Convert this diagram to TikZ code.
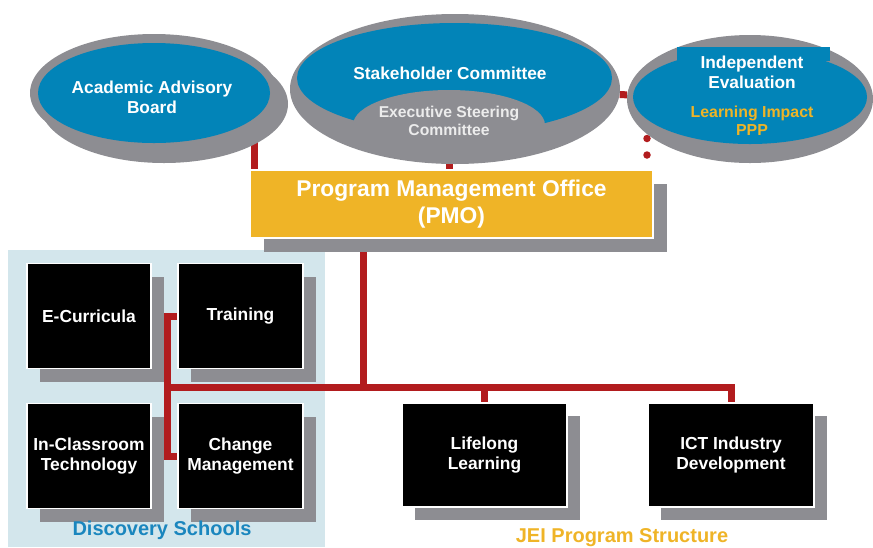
\documentclass[tikz,border=0pt]{standalone}
\usepackage{fontspec}
\setmainfont{Liberation Sans}
\usetikzlibrary{positioning,shapes.geometric,shadows,backgrounds}

\definecolor{jeiblue}{RGB}{2,132,184}
\definecolor{jeigold}{RGB}{239,180,39}
\definecolor{jeired}{RGB}{178,28,30}
\definecolor{rimgray}{RGB}{141,141,146}
\definecolor{panelblue}{RGB}{211,230,236}
\definecolor{labelblue}{RGB}{26,134,190}
\definecolor{softwhite}{RGB}{236,236,236}

\tikzset{
  rim/.style={ellipse, fill=rimgray, inner sep=0pt},
  oval/.style={ellipse, fill=jeiblue, inner sep=0pt},
  ovaltext/.style={text=white, align=center, font=\bfseries\fontsize{17.3}{20}\selectfont},
  unit/.style={rectangle, fill=black, draw=white, line width=1.5pt, text=white,
    align=center, inner sep=0pt, font=\bfseries\fontsize{17.4}{20}\selectfont,
    drop shadow={shadow xshift=13pt, shadow yshift=-13pt, fill=rimgray, opacity=1}},
  office/.style={rectangle, fill=jeigold, draw=white, line width=1.5pt, text=white,
    align=center, inner sep=0pt, font=\bfseries\fontsize{22.8}{27}\selectfont,
    drop shadow={shadow xshift=13.5pt, shadow yshift=-13.5pt, fill=rimgray, opacity=1}},
  caption/.style={font=\bfseries\fontsize{20}{22}\selectfont},
  link/.style={draw=jeired, line width=7pt},
  dotlink/.style={draw=jeired, line width=7.5pt, line cap=round, dash pattern=on 0pt off 16.5pt},
}

\begin{document}
\begin{tikzpicture}[x=1pt, y=-1pt]
    \useasboundingbox (0,0) rectangle (873,547);

    % Advisory board (rim plus its shadow)
    \node[rim, minimum width=248pt, minimum height=118pt] (aabrim) at (154,93) {};
    \node[rim, minimum width=248pt, minimum height=118pt] (aabshade) at (164,104) {};
    \node[oval, minimum width=232pt, minimum height=100pt] (aab) at (154,93) {};
    \node[ovaltext] (aabtext) at (152,97) {Academic Advisory\\Board};

    % Stakeholder committee with the steering committee inside
    \node[rim, minimum width=330pt, minimum height=150pt] (scrim) at (455,89) {};
    \node[oval, minimum width=315pt, minimum height=110pt] (sc) at (454.5,78) {};
    \node[ovaltext] (sctext) at (450,73) {Stakeholder Committee};
    \node[rim, minimum width=192pt, minimum height=70pt] (esc) at (449,125) {};
    \node[ovaltext, text=softwhite, font=\bfseries\fontsize{15.7}{18}\selectfont] (esctext) at (449,121) {Executive Steering\\Committee};

    % Evaluation
    \node[rim, minimum width=246pt, minimum height=128pt] (ierim) at (750,99) {};
    \node[oval, minimum width=234pt, minimum height=94pt] (ie) at (750,97) {};
    \node[fill=jeiblue, minimum width=153pt, minimum height=14pt, inner sep=0pt] (ietab) at (753.5,54) {};
    \node[ovaltext] (ietext) at (752,72) {Independent\\Evaluation};
    \node[ovaltext, text=jeigold, font=\bfseries\fontsize{15.9}{18}\selectfont] (iepartner) at (752,121) {Learning Impact\\PPP};

    % PMO
    \node[office, minimum width=403pt, minimum height=68pt] (pmo) at (451.5,204) {Program Management Office\\(PMO)};

    % Discovery schools units
    \node[unit, minimum width=124pt, minimum height=105pt] (ecurr) at (89,316) {E-Curricula};
    \node[unit, minimum width=125pt, minimum height=105pt] (training) at (240.5,316) {Training};
    \node[unit, minimum width=124pt, minimum height=105pt] (inclass) at (89,456) {In-Classroom\\Technology};
    \node[unit, minimum width=125pt, minimum height=105pt] (change) at (240.5,456) {Change\\Management};

    % other programs
    \node[unit, minimum width=165pt, minimum height=104pt] (lifelong) at (484.5,455) {Lifelong\\Learning};
    \node[unit, minimum width=166pt, minimum height=104pt] (ict) at (731,455) {ICT Industry\\Development};

    \node[caption, text=labelblue] (dslabel) at (162,530) {Discovery Schools};
    \node[caption, text=jeigold] (jeilabel) at (622,538) {JEI Program Structure};

    \begin{scope}[on background layer]
        \fill[panelblue] (8,250) rectangle (325,547);

        % reporting lines into the PMO
        \coordinate (aabfoot) at (254,130);
        \draw[link] (aabfoot) -- (aabfoot |- pmo.north);
        \draw[link] (esc) -- (esc |- pmo.north);
        \draw[link] (scrim) -- (ierim);
        \coordinate (evaldots) at (647,122);
        \draw[dotlink] (evaldots) -- (evaldots |- pmo.north);

        % PMO down to the programs
        \coordinate (hub) at (363,387);
        \coordinate (ds) at (167,387);
        \draw[link] (hub |- pmo.south) -- (hub);
        \draw[link] (training.west) -| (ds) |- (change.west);
        \draw[link] (ds) -| (ict.north);
        \draw[link] (lifelong.north) -- (lifelong.north |- ds);
    \end{scope}
\end{tikzpicture}
\end{document}
